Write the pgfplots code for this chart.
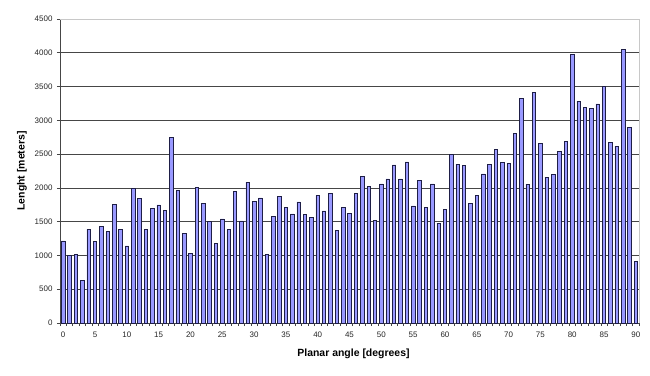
\documentclass[border=0pt]{standalone}
\usepackage{pgfplots}
\pgfplotsset{compat=1.18}
\usepackage{fontspec}
\setmainfont{Liberation Sans}
\definecolor{barfill}{RGB}{153,153,255}
\definecolor{barline}{RGB}{30,30,70}
\definecolor{gridc}{RGB}{70,70,70}
\definecolor{borderc}{RGB}{200,200,200}
\begin{document}
\begin{tikzpicture}
\begin{axis}[
  at={(0,0)}, anchor=south west,
  scale only axis,
  width=579bp, height=304bp,
  xmin=-0.5, xmax=90.5,
  ymin=0, ymax=4500,
  ybar, bar width=0.55,
  axis x line*=bottom, axis y line*=left,
  axis line style={gridc, line width=0.7bp},
  xtick={0,5,...,90},
  major x tick style={draw=none},
  minor xtick={-0.5,0.5,...,90.5},
  minor x tick style={gridc, line width=0.6bp},
  minor tick length=3bp,
  major tick length=3bp,
  tick align=outside,
  ytick={0,500,...,4000},
  extra y ticks={4500},
  extra y tick style={grid=none},
  ytick style={gridc, line width=0.6bp},
  ymajorgrids,
  grid style={gridc, line width=0.7bp},
  scaled y ticks=false,
  /pgf/number format/1000 sep={},
  /pgf/number format/assume math mode=true,
  ticklabel style={font=\fontsize{8}{9}\selectfont, text=black!85},
  yticklabel style={xshift=-1bp},
  xticklabel style={yshift=-2bp},
  every axis y label/.style={at={(rel axis cs:0,0.5)}, xshift=-38bp, rotate=90, anchor=center,
    font=\fontsize{10.5}{12}\selectfont\bfseries},
  every axis x label/.style={at={(rel axis cs:0.5,0)}, xshift=4bp, yshift=-31bp, anchor=center,
    font=\fontsize{10.5}{12}\selectfont\bfseries},
  xlabel={Planar angle [degrees]},
  ylabel={Lenght [meters]},
  clip=false,
]
\addplot[fill=barfill, draw=barline, line width=0.6bp] coordinates {
(0,1215) (1,1000) (2,1015) (3,630) (4,1390) (5,1213) (6,1430) (7,1350) (8,1757) (9,1380)
(10,1140) (11,1990) (12,1840) (13,1390) (14,1698) (15,1747) (16,1663) (17,2745) (18,1958) (19,1327)
(20,1027) (21,2012) (22,1767) (23,1505) (24,1173) (25,1540) (26,1381) (27,1950) (28,1510) (29,2085)
(30,1802) (31,1851) (32,1015) (33,1574) (34,1876) (35,1713) (36,1614) (37,1792) (38,1609) (39,1559)
(40,1891) (41,1658) (42,1916) (43,1376) (44,1713) (45,1626) (46,1915) (47,2173) (48,2020) (49,1520)
(50,2059) (51,2133) (52,2340) (53,2133) (54,2385) (55,1732) (56,2113) (57,1717) (58,2059) (59,1480)
(60,1677) (61,2490) (62,2350) (63,2330) (64,1773) (65,1887) (66,2207) (67,2345) (68,2564) (69,2372)
(70,2362) (71,2803) (72,3325) (73,2054) (74,3409) (75,2653) (76,2158) (77,2197) (78,2544) (79,2687)
(80,3980) (81,3283) (82,3197) (83,3173) (84,3242) (85,3505) (86,2668) (87,2618) (88,4054) (89,2897)
(90,911)
};
\draw[borderc, line width=0.7bp] (rel axis cs:0,1) -- (rel axis cs:1,1) -- (rel axis cs:1,0);
\end{axis}
\pgfresetboundingbox
\useasboundingbox (-60bp,-53bp) rectangle (590bp,323bp);
\end{tikzpicture}
\end{document}
